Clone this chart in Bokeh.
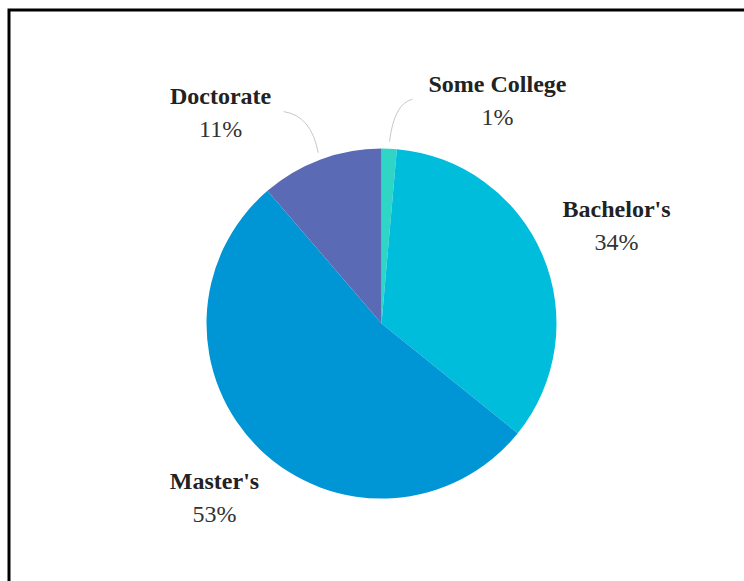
import math
from bokeh.plotting import figure
from bokeh.models import ColumnDataSource, Range1d
from bokeh.core.properties import value
from bokeh.embed import file_html
from bokeh.resources import INLINE

# ---- data ----
categories = ["Some College", "Bachelor's", "Master's", "Doctorate"]
shares = [1.4, 34.4, 52.9, 11.3]
colors = ["#2fd6c6", "#00bddc", "#0096d6", "#5a6ab4"]

# ---- layout ----
W, H = 744, 581
CX, CY = 381, 323          # pie centre in window pixels
R = 175                     # pie radius (px)
LABEL_DIST = 250
# per-label nudges (dx, dy) applied after radial placement (Highcharts-like collision shifts)
nudges = [(105, -27), (5, 0), (7, 5), (-74, -24)]
# connectors drawn for shifted labels: horizontal offset of connector start from label centre
connector_dx = [-85, None, None, 63]

p = figure(width=W, height=H, output_backend="svg", toolbar_location=None,
           x_range=Range1d(-CX, W - CX), y_range=Range1d(-(H - CY), CY),
           min_border=0, min_border_left=0, min_border_right=0,
           min_border_top=0, min_border_bottom=0)
p.axis.visible = False
p.grid.visible = False
p.outline_line_color = None
p.background_fill_color = "white"
p.border_fill_color = "white"

total = sum(shares)
starts, ends, mids = [], [], []
cum = 0.0
for s in shares:
    a0 = cum / total
    cum += s
    a1 = cum / total
    starts.append(math.pi / 2 - 2 * math.pi * a0)
    ends.append(math.pi / 2 - 2 * math.pi * a1)
    mids.append(math.pi / 2 - 2 * math.pi * (a0 + a1) / 2)

src = ColumnDataSource(dict(start=starts, end=ends, color=colors, cat=categories))
p.wedge(x=0, y=0, radius=R, start_angle="start", end_angle="end", direction="clock",
        fill_color="color", line_color=None, source=src)

# labels
lx, ly = [], []
for m, (dx, dy) in zip(mids, nudges):
    lx.append(LABEL_DIST * math.cos(m) + dx)
    ly.append(LABEL_DIST * math.sin(m) + dy)

name_src = ColumnDataSource(dict(x=lx, y=[v + 17 for v in ly], t=categories))
pct_src = ColumnDataSource(dict(x=lx, y=[v - 16 for v in ly],
                                t=[f"{round(s)}%" for s in shares]))
p.text(x="x", y="y", text="t", source=name_src, text_font=value("Liberation Serif"),
       text_font_style="bold", text_font_size="24px", text_color="#222222",
       text_align="center", text_baseline="alphabetic")
p.text(x="x", y="y", text="t", source=pct_src, text_font=value("Liberation Serif"),
       text_font_style="normal", text_font_size="24px", text_color="#333333",
       text_align="center", text_baseline="alphabetic")

# connectors
for m, x, y, cdx in zip(mids, lx, ly, connector_dx):
    if cdx is None:
        continue
    x0, y0 = x + cdx, y + 1.5
    x1, y1 = (R + 7) * math.cos(m), (R + 7) * math.sin(m)
    cx = x1 + 0.2 * (x0 - x1)
    cy = y0 - 0.1 * (y0 - y1)
    p.quadratic(x0=x0, y0=y0, x1=x1, y1=y1, cx=cx, cy=cy,
                line_color="#c8c8c8", line_width=1)

# frame border (top & left edges visible in the crop)
xl = p.x_range.start + 8.5
yt = p.y_range.end - 9.5
p.line(x=[xl, xl, p.x_range.end + 5], y=[p.y_range.start - 5, yt, yt],
       line_color="black", line_width=3, line_join="miter")

open("out.html", "w").write(file_html(p, INLINE))
